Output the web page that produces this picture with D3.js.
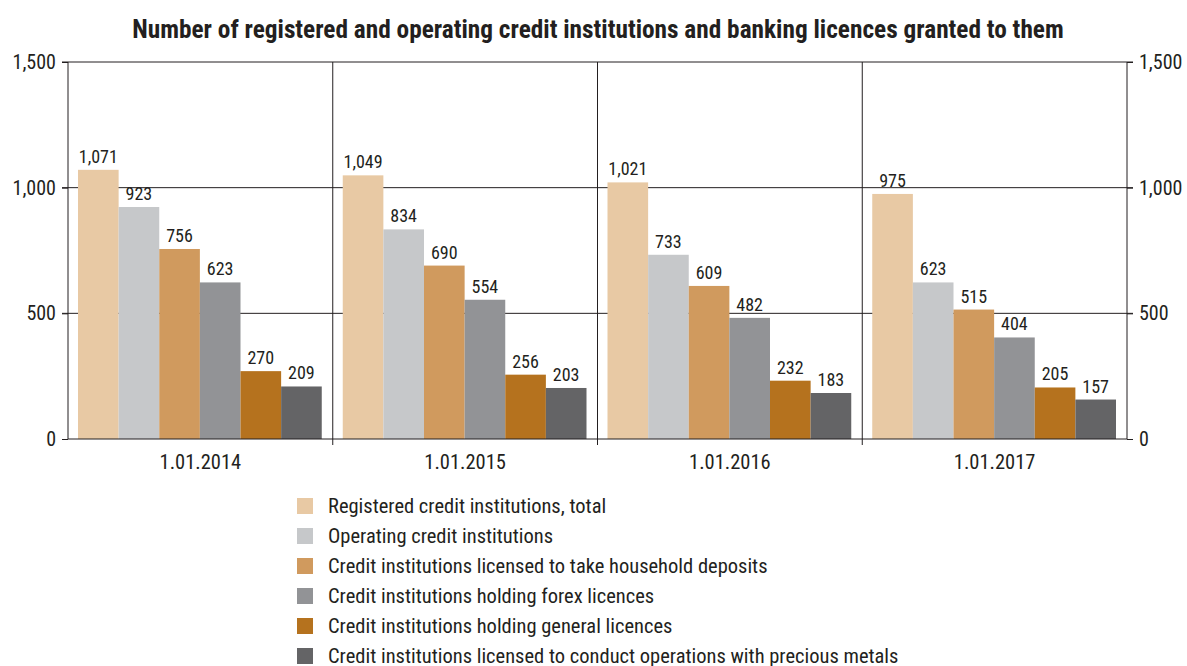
<!DOCTYPE html>
<html>
<head>
<meta charset="utf-8">
<script src="https://cdn.jsdelivr.net/npm/d3@7"></script>
<style>
  body { margin: 0; background: #fff; }
  svg text { font-family: "Liberation Sans Narrow", "Roboto Condensed", "Roboto", sans-serif; fill: #231f20; }
</style>
</head>
<body>
<div id="chart"></div>
<script>
const dates = ["1.01.2014", "1.01.2015", "1.01.2016", "1.01.2017"];
const seriesNames = [
  "Registered credit institutions, total",
  "Operating credit institutions",
  "Credit institutions licensed to take household deposits",
  "Credit institutions holding forex licences",
  "Credit institutions holding general licences",
  "Credit institutions licensed to conduct operations with precious metals",
];
const registered = [1071, 1049, 1021, 975];
const operating = [923, 834, 733, 623];
const deposits = [756, 690, 609, 515];
const forex = [623, 554, 482, 404];
const general = [270, 256, 232, 205];
const metals = [209, 203, 183, 157];
const yTicks = [0, 500, 1000, 1500];
const colors = ["#e8c9a4", "#c6c8ca", "#d09a5e", "#929396", "#b5721e", "#646466"];

const seriesValues = [registered, operating, deposits, forex, general, metals];

const width = 1187;
const height = 666;
const marginLeft = 68;
const marginRight = 60;
const plotTop = 62;
const plotBottom = 439;

const svg = d3.select("#chart").append("svg")
  .attr("width", width)
  .attr("height", height);

svg.append("text")
  .attr("x", 598)
  .attr("y", 38)
  .attr("text-anchor", "middle")
  .style("font-size", "25.3px")
  .style("font-weight", "bold")
  .text("Number of registered and operating credit institutions and banking licences granted to them");

const x0 = d3.scaleBand()
  .domain(dates)
  .range([marginLeft, width - marginRight]);

const x1 = d3.scaleBand()
  .domain(d3.range(seriesNames.length))
  .range([10, x0.bandwidth() - 11]);

const y = d3.scaleLinear()
  .domain([0, 1500])
  .range([plotBottom, plotTop]);

const fmt = d3.format(",");

// gridlines
svg.append("g")
  .selectAll("line")
  .data(yTicks.filter((d) => d > 0))
  .join("line")
  .attr("x1", marginLeft - 6)
  .attr("x2", width - marginRight + 6)
  .attr("y1", (d) => y(d))
  .attr("y2", (d) => y(d))
  .attr("stroke", "#231f20")
  .attr("stroke-width", 1);

// group separators
svg.append("g")
  .selectAll("line")
  .data(dates.slice(1))
  .join("line")
  .attr("x1", (d) => x0(d))
  .attr("x2", (d) => x0(d))
  .attr("y1", plotTop)
  .attr("y2", plotBottom + 6)
  .attr("stroke", "#231f20");

// bars
const groups = svg.append("g")
  .selectAll("g")
  .data(dates)
  .join("g")
  .attr("transform", (d) => `translate(${x0(d)},0)`);

groups.selectAll("rect")
  .data((d, i) => seriesValues.map((s, k) => ({ k, v: s[i] })))
  .join("rect")
  .attr("x", (d) => x1(d.k))
  .attr("y", (d) => y(d.v))
  .attr("width", x1.bandwidth())
  .attr("height", (d) => y(0) - y(d.v))
  .attr("fill", (d) => colors[d.k]);

groups.selectAll("text")
  .data((d, i) => seriesValues.map((s, k) => ({ k, v: s[i] })))
  .join("text")
  .attr("x", (d) => x1(d.k) + x1.bandwidth() / 2)
  .attr("y", (d) => y(d.v) - 7)
  .attr("text-anchor", "middle")
  .style("font-size", "18px")
  .text((d) => fmt(d.v));

// axes
const yLeft = d3.axisLeft(y).tickValues(yTicks).tickFormat(fmt).tickSize(6).tickPadding(6);
const yRight = d3.axisRight(y).tickValues(yTicks).tickFormat(fmt).tickSize(6).tickPadding(6);

function styleAxis(g) {
  g.select(".domain").attr("stroke", "#231f20");
  g.selectAll(".tick line").attr("stroke", "#231f20");
  g.selectAll(".tick text").style("font-size", "20px").attr("fill", "#231f20");
}

svg.append("g")
  .attr("transform", `translate(${marginLeft},0)`)
  .call(yLeft)
  .call((g) => g.select(".domain").attr("d", `M0,${plotTop}V${plotBottom}`))
  .call(styleAxis);

svg.append("g")
  .attr("transform", `translate(${width - marginRight},0)`)
  .call(yRight)
  .call((g) => g.select(".domain").attr("d", `M0,${plotTop}V${plotBottom}`))
  .call(styleAxis);

svg.append("g")
  .attr("transform", `translate(0,${plotBottom})`)
  .call(d3.axisBottom(x0).tickSize(0).tickPadding(15))
  .call((g) => g.select(".domain").attr("d", `M${marginLeft},0H${width - marginRight}`))
  .call(styleAxis)
  .call((g) => g.selectAll(".tick text").style("font-size", "20.5px"));

// legend
const legend = svg.append("g")
  .attr("transform", "translate(297,506)");

const items = legend.selectAll("g")
  .data(seriesNames)
  .join("g")
  .attr("transform", (d, i) => `translate(0,${i * 30})`);

items.append("rect")
  .attr("x", 0)
  .attr("y", -8)
  .attr("width", 16)
  .attr("height", 16)
  .attr("fill", (d, i) => colors[i]);

items.append("text")
  .attr("x", 31)
  .attr("y", 0)
  .attr("dy", "0.35em")
  .style("font-size", "20.5px")
  .text((d) => d);
</script>
</body>
</html>
